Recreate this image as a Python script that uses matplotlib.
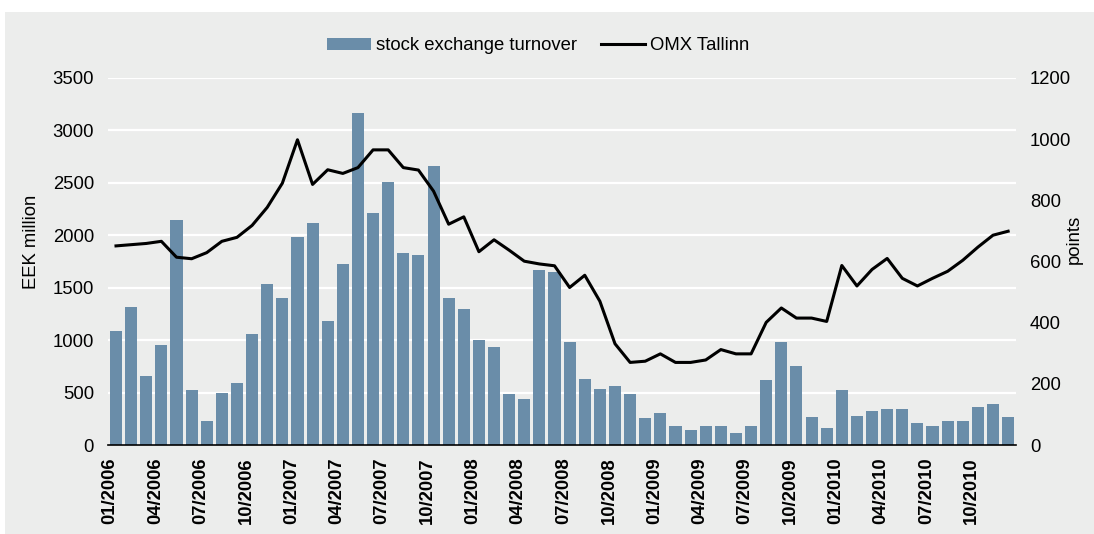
import numpy as np
import matplotlib
matplotlib.use('Agg')
import matplotlib.pyplot as plt
from matplotlib.patches import Rectangle, Patch
from matplotlib.lines import Line2D

plt.rcParams['font.family'] = ['Liberation Sans', 'DejaVu Sans']

# monthly data, 01/2006 .. 12/2010
turnover = [1083, 1312, 662, 949, 2143, 529, 232, 500, 596, 1054,
            1532, 1398, 1981, 2115, 1178, 1723, 3166, 2210, 2506, 1828,
            1809, 2659, 1398, 1293, 1006, 939, 490, 443, 1666, 1646,
            978, 634, 538, 567, 490, 261, 309, 185, 146, 185,
            185, 118, 185, 624, 987, 758, 271, 166, 529, 280,
            328, 347, 347, 213, 185, 232, 232, 366, 395, 271]  # EEK million
omx = [651, 655, 659, 666, 614, 609, 629, 666, 679, 718,
       777, 856, 998, 852, 900, 888, 907, 965, 965, 907,
       899, 830, 722, 746, 632, 671, 637, 601, 592, 586,
       515, 555, 470, 331, 270, 274, 298, 270, 270, 278,
       312, 298, 298, 401, 448, 415, 415, 404, 587, 520,
       574, 610, 545, 520, 545, 568, 604, 647, 686, 699]  # points
tick_labels = ['01/2006', '04/2006', '07/2006', '10/2006',
               '01/2007', '04/2007', '07/2007', '10/2007',
               '01/2008', '04/2008', '07/2008', '10/2008',
               '01/2009', '04/2009', '07/2009', '10/2009',
               '01/2010', '04/2010', '07/2010', '10/2010']

BG = '#ecedec'
BAR = '#6a8da9'
W, H = 1094, 534
FS = 13.3

fig = plt.figure(figsize=(W/100, H/100), dpi=100, facecolor='white')
fig.patches.append(Rectangle((5/W, 0), 1, 1 - 12/H, transform=fig.transFigure,
                             facecolor=BG, edgecolor='none', zorder=-10))

ax = fig.add_axes([108/W, 1 - 445/H, (1016 - 108)/W, (445 - 78)/H])
ax.set_facecolor(BG)
x = np.arange(len(turnover))
ax.bar(x, turnover, width=0.8, color=BAR, zorder=2)
ax.set_xlim(-0.53, 59.52)
ax.set_ylim(0, 3500)
ax.set_yticks(np.arange(0, 3501, 500))
ax.grid(axis='y', color='white', lw=1.6, zorder=0)
ax.set_axisbelow(True)
ax.set_xticks(np.arange(0, 60, 3) - 0.4)  # labels sit a bit left of the bars
ax.set_xticklabels(tick_labels, rotation=90, fontweight='bold', fontsize=FS)
ax.tick_params(axis='x', length=0, pad=9)
ax.tick_params(axis='y', length=0, pad=10, labelsize=FS)
for s in ('top', 'left', 'right'):
    ax.spines[s].set_visible(False)
ax.spines['bottom'].set_color('black')
ax.spines['bottom'].set_linewidth(1.2)
ax.spines['bottom'].set_zorder(5)

ax2 = ax.twinx()
ax2.plot(x, omx, color='black', lw=2.2, zorder=3)
ax2.set_ylim(0, 1200)
ax2.set_yticks(np.arange(0, 1201, 200))
ax2.tick_params(axis='y', length=0, pad=10, labelsize=FS)
for s in ax2.spines.values():
    s.set_visible(False)

fig.text(31/W, 1 - 242/H, 'EEK million', rotation=90, ha='center', va='center', fontsize=FS)
fig.text(1074/W, 1 - 239/H, 'points', rotation=90, ha='center', va='center', fontsize=FS)

handles = [Patch(facecolor=BAR, edgecolor='none'), Line2D([], [], color='black', lw=2.2)]
fig.legend(handles, ['stock exchange turnover', 'OMX Tallinn'], loc='center',
           bbox_to_anchor=(538/W, 1 - 46/H), ncol=2, frameon=False, fontsize=FS,
           handlelength=2.4, handleheight=0.55, handletextpad=0.25, columnspacing=1.3)

fig.savefig('out.png', dpi=100, facecolor=fig.get_facecolor())
